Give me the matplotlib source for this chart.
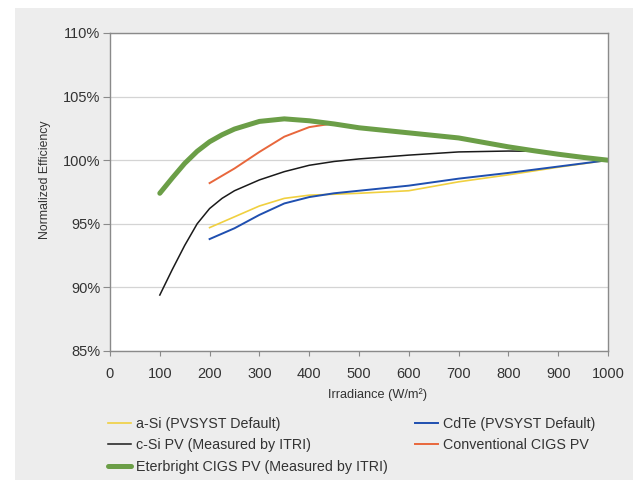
import matplotlib.pyplot as plt
from matplotlib.patches import Rectangle
from matplotlib.ticker import FuncFormatter

plt.rcParams['font.family'] = ['Liberation Sans', 'DejaVu Sans']

# values (normalized efficiency, %)
asi_x = [200, 250, 300, 350, 400, 500, 600, 700, 800, 900, 1000]
asi_y = [94.7, 95.55, 96.4, 97.0, 97.25, 97.4, 97.6, 98.3, 98.85, 99.45, 100.0]

cdte_x = [200, 250, 300, 350, 400, 450, 500, 600, 700, 800, 900, 1000]
cdte_y = [93.8, 94.65, 95.7, 96.6, 97.1, 97.4, 97.6, 98.0, 98.55, 99.0, 99.5, 100.0]

csi_x = [100, 125, 150, 175, 200, 225, 250, 300, 350, 400, 450, 500, 600, 700, 800, 850, 900, 1000]
csi_y = [89.4, 91.4, 93.3, 95.0, 96.2, 97.0, 97.6, 98.45, 99.1, 99.6, 99.9, 100.1, 100.4, 100.65,
         100.72, 100.7, 100.45, 100.0]

conv_x = [200, 250, 300, 350, 400, 450, 500, 600, 700, 800, 900, 1000]
conv_y = [98.2, 99.35, 100.65, 101.85, 102.6, 102.9, 102.6, 102.15, 101.7, 101.0, 100.45, 100.0]

eter_x = [100, 125, 150, 175, 200, 225, 250, 300, 350, 400, 450, 500, 550, 600, 650, 700, 750,
          800, 850, 900, 950, 1000]
eter_y = [97.4, 98.6, 99.75, 100.7, 101.45, 102.0, 102.45, 103.05, 103.25, 103.1, 102.85, 102.55,
          102.35, 102.15, 101.95, 101.75, 101.4, 101.05, 100.75, 100.47, 100.22, 100.0]

fig = plt.figure(figsize=(6.37, 4.93), dpi=100)
fig.patch.set_facecolor('white')
bg = Rectangle((15 / 637, 13 / 493), 618 / 637, 472 / 493, transform=fig.transFigure,
               facecolor='#ededed', edgecolor='none', zorder=-10)
fig.add_artist(bg)

ax = fig.add_axes([110 / 637, 1 - 351 / 493, 498 / 637, 318 / 493])
ax.set_facecolor('white')

ax.plot(asi_x, asi_y, color='#f0d040', lw=1.2, label='a-Si (PVSYST Default)')
ax.plot(csi_x, csi_y, color='#1a1a1a', lw=1.1, label='c-Si PV (Measured by ITRI)')
ax.plot(cdte_x, cdte_y, color='#1f4fb0', lw=1.4, label='CdTe (PVSYST Default)')
ax.plot(conv_x, conv_y, color='#e8673c', lw=1.4, label='Conventional CIGS PV')
ax.plot(eter_x, eter_y, color='#6b9e47', lw=3.6, solid_capstyle='round',
        label='Eterbright CIGS PV (Measured by ITRI)')

ax.set_xlim(0, 1000)
ax.set_ylim(85, 110)
ax.set_xticks(range(0, 1001, 100))
ax.set_yticks(range(85, 111, 5))
ax.yaxis.set_major_formatter(FuncFormatter(lambda v, p: f'{v:.0f}%'))
ax.grid(axis='y', color='#d4d4d4', lw=0.9)
ax.set_axisbelow(True)
for s in ax.spines.values():
    s.set_color('#8a8a8a')
    s.set_linewidth(1.0)
ax.tick_params(axis='both', colors='#8a8a8a', labelcolor='#333333', labelsize=10.5)
ax.tick_params(axis='x', direction='out', length=3.5, pad=8)
ax.tick_params(axis='y', direction='out', length=5, pad=2)

ax.set_xlabel('Irradiance (W/m²)', fontsize=9.2, color='#333333')
ax.xaxis.set_label_coords((378 - 110) / 498, (351 - 388) / 318)
ax.set_ylabel('Normalized Efficiency', fontsize=8.8, color='#333333')
ax.yaxis.set_label_coords((51 - 110) / 498, (351 - 180) / 318)

handles, labels = ax.get_legend_handles_labels()
order = [0, 1, 4, 2, 3]
leg = fig.legend([handles[i] for i in order], [labels[i] for i in order],
                 loc='upper left', bbox_to_anchor=(108 / 637, 1 - 417 / 493), ncol=2,
                 frameon=False, fontsize=10.3, handlelength=1.6, handletextpad=0.35,
                 columnspacing=1.9, labelspacing=0.52, borderpad=0, borderaxespad=0,
                 labelcolor='#333333')

fig.savefig('out.png', dpi=100, facecolor=fig.get_facecolor())
